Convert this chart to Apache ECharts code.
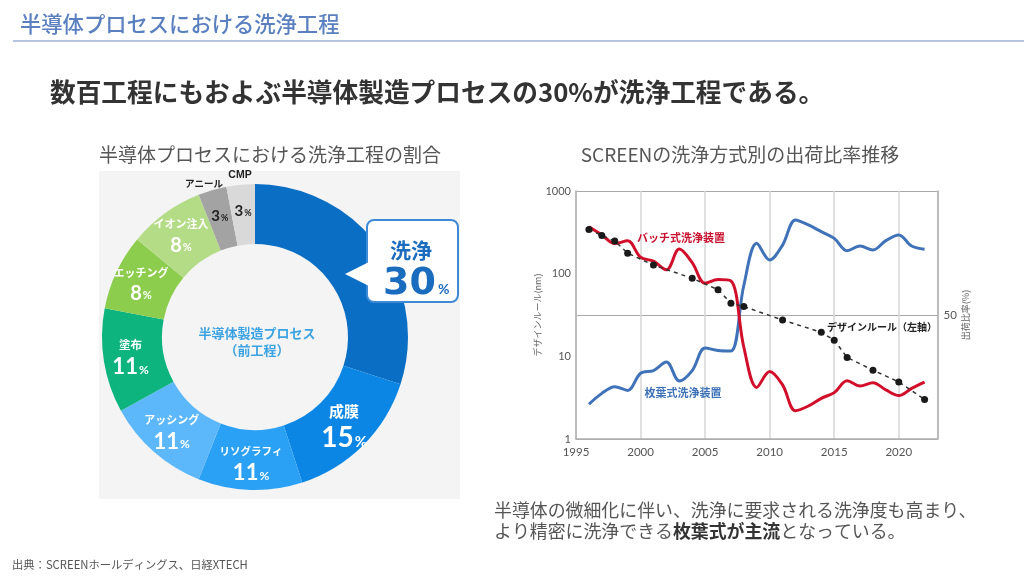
<!DOCTYPE html>
<html><head><meta charset="utf-8">
<script src="https://cdn.jsdelivr.net/npm/echarts@6/dist/echarts.min.js"></script>
<style>html,body{margin:0;padding:0;background:#fff;}#c{width:1024px;height:576px;}</style>
</head><body><div id="c"></div>
<script>
// ---- data ----
const pieNames = ['洗浄','成膜','リソグラフィ','アッシング','塗布','エッチング','イオン注入','アニール','CMP'];
const pieValues = [30,15,11,11,11,8,8,3,3];
const years = [1996,1997,1998,1999,2000,2001,2002,2003,2004,2005,2006,2007,2008,2009,2010,2011,2012,2013,2014,2015,2016,2017,2018,2019,2020,2021,2022];
const singleWafer = [14.0,18.4,21.1,19.6,26.5,27.6,31.0,23.4,27.6,36.7,35.7,35.5,62,78.9,72.2,78.2,88.3,86.3,83.6,80.9,75.9,77.8,76.2,80.0,82.3,77.8,76.5];
const batch =       [85.6,82.3,78.8,79.9,73.3,71.7,68.2,76.6,71.1,62.8,64.3,63.8,37,20.8,27.2,21.8,11.4,13.3,16.4,18.7,23.5,21.4,22.7,19.8,17.5,20.4,22.9];
const ruleYears = [1996,1997,1998,1999,2001,2004,2006,2007,2008,2011,2014,2015,2016,2018,2020,2022];
const ruleNm =    [343,290,248,177,127,88,64,44,40,27.5,19.5,15.7,9.7,6.8,4.9,3.0];
const seriesNames = ['バッチ式洗浄装置','枚葉式洗浄装置','デザインルール(左軸)'];
const xTicks = [1995,2000,2005,2010,2015,2020];
const rightTickShown = [50];

// ---- styles ----
const JP = '"Noto Sans CJK JP", sans-serif';
const NUM = 'Lato, "Noto Sans", sans-serif';
const pieColors = ['#0a6fc4','#0b86e4','#2ba1f6','#5db8fb','#0db47e','#8dcd4e','#b4dc87','#a3a3a3','#d9d9d9'];
const valSize = [0,28,22,22,22,20,20,15,15];
const nameSize = [0,15,10.5,11,11.5,11,11,0,0];

const pieData = pieNames.map((n,i)=>{
  const item = {name:n, value:pieValues[i], itemStyle:{color:pieColors[i]}};
  if (i===0) { item.label = {show:false}; }
  else if (i>=7) {
    item.label = {show:true, position:'inside', overflow:'none', formatter:'{v|'+pieValues[i]+'}{p|%}',
      rich:{v:{fontSize:valSize[i],fontWeight:'bold',color:'#222',fontFamily:NUM,verticalAlign:'bottom'},
            p:{fontSize:9,fontWeight:'bold',color:'#222',fontFamily:NUM,verticalAlign:'bottom',padding:[0,0,1,1]}}};
  } else {
    item.label = {show:true, position:'inside', overflow:'none', formatter:'{n|'+n+'}\n{v|'+pieValues[i]+'}{p|%}',
      rich:{n:{fontSize:nameSize[i],fontWeight:'bold',color:'#fff',fontFamily:JP,lineHeight:nameSize[i]+7,align:'center'},
            v:{fontSize:valSize[i],fontWeight:'bold',color:'#fff',fontFamily:NUM,lineHeight:valSize[i]+2,verticalAlign:'bottom'},
            p:{fontSize:Math.round(valSize[i]*0.55),fontWeight:'bold',color:'#fff',fontFamily:NUM,verticalAlign:'bottom',padding:[0,0,2,1]}}};
  }
  return item;
});

const chart = echarts.init(document.getElementById('c'), null, {renderer:'canvas'});
const T = (x,y,text,font,fill,align,extra)=>Object.assign({type:'text',z:50,style:{x:x,y:y,text:text,font:font,fill:fill,align:align||'left',verticalAlign:'middle'}},extra||{});

const option = {
  animation:false,
  backgroundColor:'#fff',
  textStyle:{fontFamily:JP},
  grid:{left:576,right:86.5,top:191,bottom:137,containLabel:false},
  xAxis:{type:'value',min:1995,max:2023,interval:5,
    axisLine:{show:true,lineStyle:{color:'#b0b0b0',width:1.5}},
    axisTick:{show:false},
    axisLabel:{color:'#555',fontSize:11.5,fontFamily:NUM,margin:7,
      formatter:v=>xTicks.indexOf(v)>=0?String(v):''},
    splitLine:{show:true,lineStyle:{color:'#d6d6d6',width:1.5}}},
  yAxis:[
    {type:'log',logBase:10,min:1,max:1000,
     name:'デザインルール(nm)',nameLocation:'middle',nameRotate:90,nameGap:27,
     nameTextStyle:{color:'#666',fontSize:9,fontFamily:JP},
     axisLine:{show:true,lineStyle:{color:'#b0b0b0',width:1.5}},
     axisTick:{show:false},
     axisLabel:{color:'#555',fontSize:11,fontFamily:NUM,margin:5,formatter:v=>String(Math.round(v))},
     splitLine:{show:false}},
    {type:'value',min:0,max:100,interval:50,position:'right',
     name:'出荷比率(%)',nameLocation:'middle',nameRotate:90,nameGap:24,
     nameTextStyle:{color:'#666',fontSize:9,fontFamily:JP},
     axisLine:{show:true,lineStyle:{color:'#b0b0b0',width:1.5}},
     axisTick:{show:false},
     axisLabel:{color:'#555',fontSize:11.5,fontFamily:NUM,margin:6,
       formatter:v=>rightTickShown.indexOf(v)>=0?String(v):''},
     splitLine:{show:true,lineStyle:{color:'#a8a8a8',width:1.2}}}
  ],
  series:[
    {type:'pie',center:[255,337],radius:[93,153],startAngle:90,clockwise:true,
     avoidLabelOverlap:false,silent:true,label:{show:true},labelLine:{show:false},
     itemStyle:{borderWidth:0},data:pieData},
    {name:seriesNames[1],type:'line',yAxisIndex:1,smooth:0.35,showSymbol:false,
     lineStyle:{color:'#3f72b8',width:3},itemStyle:{color:'#3f72b8'},
     data:years.map((y,i)=>[y,singleWafer[i]]),z:3},
    {name:seriesNames[0],type:'line',yAxisIndex:1,smooth:0.35,showSymbol:false,
     lineStyle:{color:'#d20f2a',width:3},itemStyle:{color:'#d20f2a'},
     data:years.map((y,i)=>[y,batch[i]]),z:4},
    {name:seriesNames[2],type:'line',yAxisIndex:0,smooth:false,symbol:'circle',symbolSize:7,
     lineStyle:{color:'#333',width:1.5,type:[4,4]},itemStyle:{color:'#1a1a1a'},
     data:ruleYears.map((y,i)=>[y,ruleNm[i]]),z:5}
  ],
  graphic:[
    T(20,24,'半導体プロセスにおける洗浄工程','500 21.3px '+JP,'#5b80c0'),
    {type:'line',shape:{x1:13,y1:41,x2:1024,y2:41},style:{stroke:'#9db2d6',lineWidth:1.5}},
    T(50,92,'数百工程にもおよぶ半導体製造プロセスの30%が洗浄工程である。','bold 25.7px '+JP,'#333'),
    T(270,155,'半導体プロセスにおける洗浄工程の割合','19px '+JP,'#555','center'),
    T(740,155,'SCREENの洗浄方式別の出荷比率推移','19px '+JP,'#555','center'),
    {type:'rect',z:-10,shape:{x:99,y:171,width:361,height:328},style:{fill:'#f4f4f4'}},
    T(257,333,'半導体製造プロセス','bold 13px '+JP,'#3ba3e3','center'),
    T(257,350,'（前工程）','bold 13px '+JP,'#3ba3e3','center'),
    T(204,183,pieNames[7],'bold 9.5px '+JP,'#222','center'),
    T(240,175,pieNames[8],'bold 10.5px "Liberation Sans", sans-serif','#222','center'),
    // callout
    {type:'rect',z:60,shape:{x:367,y:220,width:91,height:82,r:7},style:{fill:'#fff',stroke:'#3e8ad6',lineWidth:2}},
    {type:'polygon',z:61,shape:{points:[[345,274],[369,262],[369,286]]},style:{fill:'#fff'}},
    T(411,250,pieNames[0],'bold 21px '+JP,'#1a6cbf','center',{z:62}),
    T(436,284,String(pieValues[0]),'bold 38px "DejaVu Sans", sans-serif','#1a6cbf','right',{z:62}),
    T(438,289,'%','bold 14px '+NUM,'#1a6cbf','left',{z:62}),
    // chart labels
    T(681,238,seriesNames[0],'bold 11px '+JP,'#c8102e','center'),
    T(683,393,seriesNames[1],'bold 11px '+JP,'#3d72b8','center'),
    T(882,327,'デザインルール（左軸）','bold 10px '+JP,'#222','center'),
    // bottom note
    {type:'text',z:50,style:{x:494,y:510,text:'半導体の微細化に伴い、洗浄に要求される洗浄度も高まり、',font:'17.9px '+JP,fill:'#555',verticalAlign:'middle'}},
    {type:'text',z:50,style:{x:494,y:531,verticalAlign:'middle',
      text:'{a|より精密に洗浄できる}{b|枚葉式が主流}{a|となっている。}',
      rich:{a:{fontSize:17.9,fontFamily:JP,fill:'#555',color:'#555'},b:{fontSize:17.9,fontFamily:JP,fontWeight:'bold',fill:'#333',color:'#333'}}}},
    T(12,565,'出典：SCREENホールディングス、日経XTECH','11.3px '+JP,'#555')
  ]
};
chart.setOption(option);
</script></body></html>
